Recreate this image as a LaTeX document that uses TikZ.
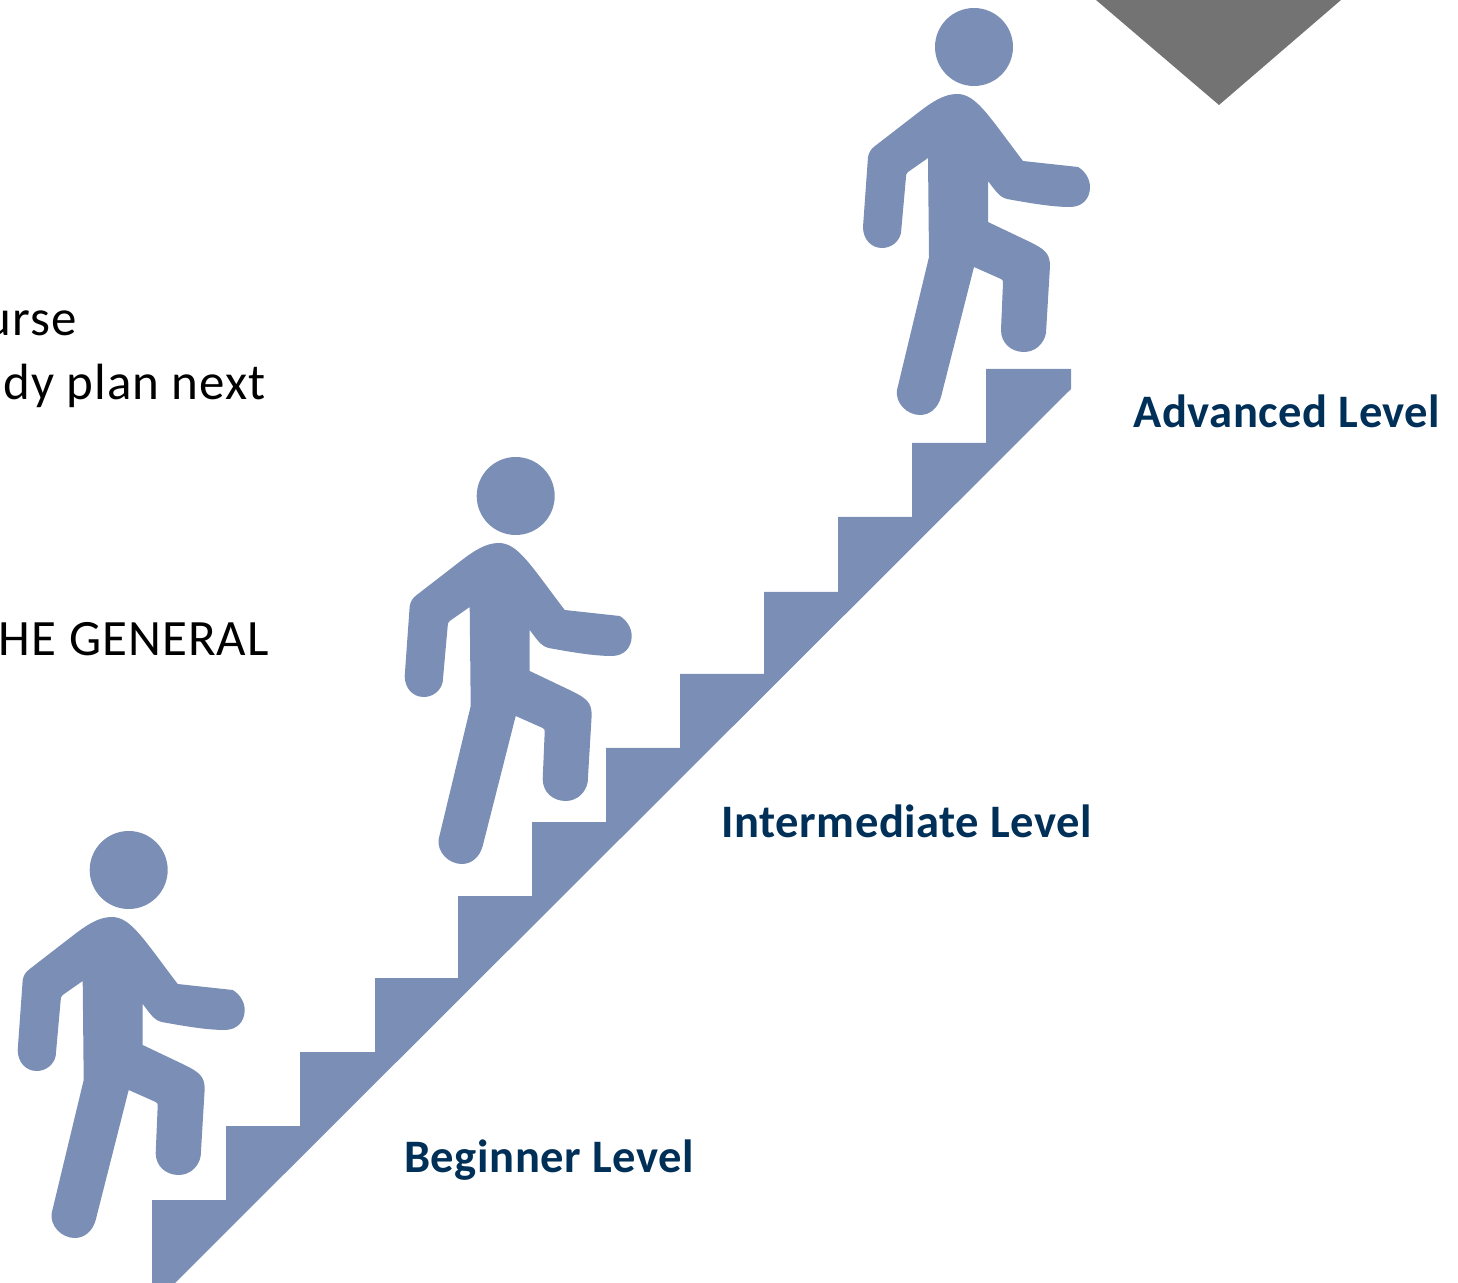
\documentclass[tikz,border=0pt]{standalone}
\usepackage{fontspec}
\setmainfont{Carlito}
\definecolor{stairblue}{HTML}{7B8FB6}
\definecolor{levelnavy}{HTML}{003058}
\definecolor{cornergray}{HTML}{737373}

\begin{document}
\begin{tikzpicture}[
      x = 0.02cm, y = -0.02cm,
      level/.style = {
        anchor = base west, inner sep = 0pt,
        text = levelnavy,
        font = \fontsize{26.5}{30}\selectfont\bfseries\addfontfeature{LetterSpace=1.2}
      },
      cuttext/.style = {
        anchor = base east, inner sep = 0pt,
        font = \fontsize{29}{32}\selectfont\addfontfeature{LetterSpace=2}
      },
      walker/.pic = {
        \fill[stairblue] (0,0) circle[radius=39];
        \fill[stairblue] (-17,47) .. controls (2,47) and (14,68) .. (49,114)
          -- (104,120) .. controls (111,124) and (116,132) .. (116,140)
          .. controls (116,152) and (108,160) .. (96,160)
          .. controls (78,160) and (55,156) .. (33,152)
          .. controls (25,150) and (21,143) .. (14,134)
          -- (14,175) -- (56,195) .. controls (70,202) and (76,206) .. (76,219)
          -- (72,286) .. controls (70,297) and (61,305) .. (50,305)
          .. controls (37,305) and (27,296) .. (27,283)
          -- (29,236) .. controls (29,234) and (29,233) .. (27,232)
          -- (0,220) -- (-33,350) .. controls (-36,361) and (-44,368) .. (-54,368)
          .. controls (-67,368) and (-79,356) .. (-77,343)
          -- (-45,210)
          -- (-46,111) -- (-66,125) .. controls (-68,127) and (-68,128) .. (-68,130)
          -- (-73,186) .. controls (-75,195) and (-83,201) .. (-92,201)
          .. controls (-103,201) and (-111,192) .. (-111,180)
          -- (-106,110) .. controls (-105,105) and (-103,102) .. (-99,99)
          -- (-55,65) .. controls (-42,55) and (-30,47) .. (-17,47) -- cycle;
      },
    ]

    \useasboundingbox (0,0) rectangle (1458,1283);

    % corner triangle
    \fill[cornergray] (1096,0) -- (1341,0) -- (1219,105) -- cycle;

    % stairs
    \fill[stairblue] (152,1283) -- (152,1200) -- (226,1200) -- (226,1126)
      -- (300,1126) -- (300,1052) -- (375,1052) -- (375,978)
      -- (458,978) -- (458,896) -- (532,896) -- (532,822)
      -- (606,822) -- (606,748) -- (680,748) -- (680,674)
      -- (764,674) -- (764,592) -- (838,592) -- (838,517)
      -- (912,517) -- (912,443) -- (986,443) -- (986,369)
      -- (1071,369) -- (1071,389) -- (175,1283) -- cycle;

    \foreach \x/\y/\w in {128.7/870/low, 515.7/496/mid, 974/47/top} {
      \pic (walker-\w) at (\x,\y) {walker};
    }

    \node[level] (beginner) at (404,1172) {Beginner Level};
    \node[level] (intermediate) at (721,837) {Intermediate Level};
    \node[level] (advanced) at (1133,428) {Advanced Level};

    \node[cuttext] (line1) at (77,336) {urse};
    \node[cuttext] (line2) at (266,400) {dy plan next};
    \node[cuttext] (line3) at (269,656) {HE GENERAL};
  \end{tikzpicture}
\end{document}
